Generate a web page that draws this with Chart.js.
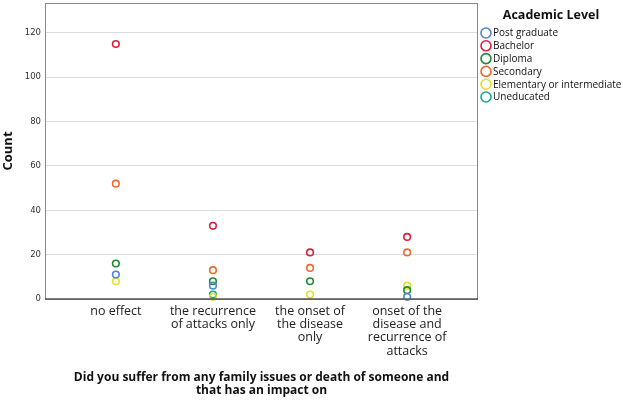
<!DOCTYPE html>
<html>
<head>
<meta charset="utf-8">
<script src="https://cdn.jsdelivr.net/npm/chart.js@4/dist/chart.umd.min.js"></script>
<style>
  html, body { margin: 0; padding: 0; background: #fff; }
  #wrap { width: 623px; height: 400px; }
</style>
</head>
<body>
<div id="wrap"><canvas id="c" width="623" height="400"></canvas></div>
<script>
// categories on the x axis (one array entry per label line)
var categories = [
  ['no effect'],
  ['the recurrence', 'of attacks only'],
  ['the onset of', 'the disease', 'only'],
  ['onset of the', 'disease and', 'recurrence of', 'attacks']
];
var levels = ['Post graduate', 'Bachelor', 'Diploma', 'Secondary', 'Elementary or intermediate', 'Uneducated'];
var levelColors = ['#4f86cf', '#dc1f3c', '#1f8a30', '#ee6a2c', '#e9dd2a', '#17a596'];

// counts per level, per category (null = no point)
var postGraduate = [11, 6, null, 1];
var bachelor = [115, 33, 21, 28];
var diploma = [16, 8, 8, 4];
var secondary = [52, 13, 14, 21];
var elementary = [8, 1, 2, 6];
var uneducated = [null, 2, null, null];

var yTicks = [0, 20, 40, 60, 80, 100, 120];
var yMax = 133.5;

var series = [postGraduate, bachelor, diploma, secondary, elementary, uneducated];

var datasets = series.map(function (vals, i) {
  var pts = [];
  vals.forEach(function (v, k) { if (v !== null) pts.push({ x: k, y: v }); });
  return {
    label: levels[i],
    data: pts,
    borderColor: levelColors[i],
    backgroundColor: 'rgba(255,255,255,0)',
    borderWidth: 1.6,
    pointRadius: 3.3,
    pointHoverRadius: 3.3,
    clip: false
  };
});

// box round the plot + legend on the right
var frame = {
  id: 'frame',
  afterDatasetsDraw: function (chart) {
    var a = chart.chartArea, ctx = chart.ctx;
    ctx.save();
    ctx.strokeStyle = '#8a8a8a';
    ctx.lineWidth = 1;
    ctx.strokeRect(a.left + 0.5, a.top + 0.5, a.right - a.left - 1, a.bottom - a.top);
    ctx.strokeStyle = '#555';
    ctx.lineWidth = 1.5;
    ctx.beginPath();
    ctx.moveTo(a.left, a.bottom);
    ctx.lineTo(a.right, a.bottom);
    ctx.stroke();

    ctx.fillStyle = '#111';
    ctx.font = 'bold 12.5px "Open Sans"';
    ctx.textAlign = 'center';
    ctx.textBaseline = 'middle';
    ctx.fillText('Academic Level', 551, 15);

    ctx.font = '10px "Open Sans"';
    ctx.textAlign = 'left';
    chart.data.datasets.forEach(function (ds, i) {
      var y = 33 + i * 12.8;
      ctx.beginPath();
      ctx.arc(486, y, 5, 0, Math.PI * 2);
      ctx.strokeStyle = ds.borderColor;
      ctx.lineWidth = 1.6;
      ctx.stroke();
      ctx.fillStyle = '#111';
      ctx.fillText(ds.label, 493, y + 0.5);
    });
    ctx.restore();
  }
};

new Chart(document.getElementById('c').getContext('2d'), {
  type: 'scatter',
  data: { datasets: datasets },
  options: {
    responsive: false,
    animation: false,
    layout: { autoPadding: false, padding: { top: 3, right: 145, left: 0, bottom: 0 } },
    plugins: { legend: { display: false }, tooltip: { enabled: false } },
    scales: {
      x: {
        type: 'linear',
        min: -0.73,
        max: 3.73,
        afterBuildTicks: function (s) {
          s.ticks = categories.map(function (c, i) { return { value: i }; });
        },
        afterFit: function (s) { s.height = 101; s.paddingLeft = 0; s.paddingRight = 0; },
        grid: { display: false, drawTicks: false },
        border: { display: false },
        ticks: {
          padding: 6,
          maxRotation: 0,
          autoSkip: false,
          color: '#222',
          font: { family: 'Open Sans', size: 12.5, lineHeight: 1.05 },
          callback: function (v) { return categories[v]; }
        },
        title: {
          display: true,
          text: ['Did you suffer from any family issues or death of someone and', 'that has an impact on'],
          color: '#111',
          font: { family: 'Open Sans', size: 12, weight: 'bold', lineHeight: 1.1 },
          padding: { top: 0, bottom: 3 }
        }
      },
      y: {
        min: 0,
        max: yMax,
        afterBuildTicks: function (s) {
          s.ticks = yTicks.map(function (v) { return { value: v }; });
        },
        afterFit: function (s) { s.width = 45; s.paddingTop = 0; s.paddingBottom = 0; },
        grid: { color: '#dcdcdc', drawTicks: false },
        border: { display: false },
        ticks: {
          padding: 4,
          color: '#333',
          font: { family: 'DejaVu Sans', size: 8.5 }
        },
        title: {
          display: true,
          text: 'Count',
          color: '#111',
          font: { family: 'Open Sans', size: 13, weight: 'bold' },
          padding: { top: 0, bottom: 0 }
        }
      }
    }
  },
  plugins: [frame]
});
</script>
</body>
</html>
